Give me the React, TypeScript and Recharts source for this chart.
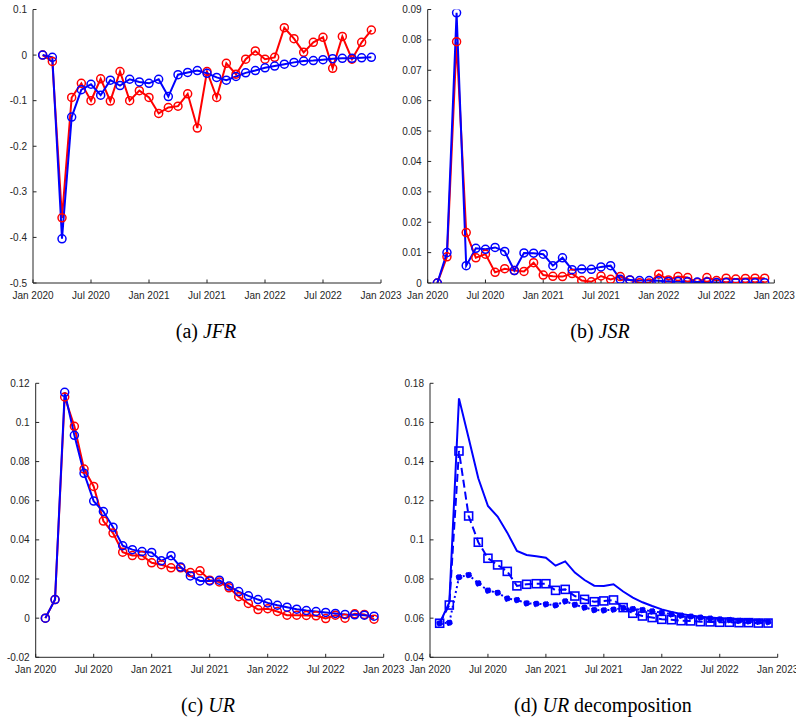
import React from "react"
import { LineChart, Line, XAxis, YAxis } from "recharts"

// monthly observations, Feb 2020 .. Dec 2022
const months = [
  "2020-02", "2020-03", "2020-04", "2020-05", "2020-06", "2020-07", "2020-08", "2020-09", "2020-10", "2020-11", "2020-12",
  "2021-01", "2021-02", "2021-03", "2021-04", "2021-05", "2021-06", "2021-07", "2021-08", "2021-09", "2021-10", "2021-11", "2021-12",
  "2022-01", "2022-02", "2022-03", "2022-04", "2022-05", "2022-06", "2022-07", "2022-08", "2022-09", "2022-10", "2022-11", "2022-12",
]

const xTicks = [0, 6, 12, 18, 24, 30, 36]
const xTickLabels = ["Jan 2020", "Jul 2020", "Jan 2021", "Jul 2021", "Jan 2022", "Jul 2022", "Jan 2023"]

// (a) JFR
const jfrRed = [
  0, -0.014, -0.357, -0.093, -0.062, -0.1, -0.052, -0.101, -0.036, -0.1, -0.078,
  -0.093, -0.128, -0.115, -0.112, -0.085, -0.16, -0.036, -0.093, -0.018, -0.042, -0.009, 0.009,
  -0.009, -0.005, 0.06, 0.036, 0.006, 0.028, 0.039, -0.029, 0.041, -0.009, 0.028, 0.055,
]
const jfrBlue = [
  0, -0.005, -0.403, -0.136, -0.076, -0.064, -0.088, -0.055, -0.067, -0.053, -0.059,
  -0.062, -0.053, -0.091, -0.043, -0.038, -0.034, -0.04, -0.049, -0.055, -0.047, -0.039, -0.034,
  -0.028, -0.024, -0.02, -0.016, -0.013, -0.012, -0.01, -0.008, -0.007, -0.007, -0.006, -0.005,
]
const jfrTicks = [-0.5, -0.4, -0.3, -0.2, -0.1, 0, 0.1]

// (b) JSR
const jsrRed = [
  0, 0.0086, 0.0794, 0.0166, 0.0083, 0.0095, 0.0035, 0.0047, 0.0041, 0.0038, 0.0067,
  0.0026, 0.0022, 0.0021, 0.0031, 0.0008, 0.0004, 0.0023, 0.0012, 0.0021, 0.001, 0.0001, 0.0,
  0.0029, 0.001, 0.0021, 0.0018, 0.0002, 0.0018, 0.0008, 0.0016, 0.0013, 0.0015, 0.0016, 0.0016,
]
const jsrBlue = [
  0, 0.01, 0.0889, 0.0057, 0.0114, 0.0111, 0.0117, 0.0104, 0.0041, 0.0099, 0.0098,
  0.0095, 0.0057, 0.0083, 0.0044, 0.0046, 0.0045, 0.0053, 0.0057, 0.0012, 0.001, 0.0008, 0.0008,
  0.0007, 0.0005, 0.0005, 0.0004, 0.0003, 0.0003, 0.0002, 0.0002, 0.0001, 0.0001, 0.0001, 0.0001,
]
const jsrTicks = [0, 0.01, 0.02, 0.03, 0.04, 0.05, 0.06, 0.07, 0.08, 0.09]

// (c) UR
const urRed = [
  0, 0.0095, 0.113, 0.098, 0.0762, 0.0673, 0.0496, 0.0435, 0.0337, 0.032, 0.032,
  0.0283, 0.0273, 0.0257, 0.0257, 0.0233, 0.0242, 0.0194, 0.0185, 0.0155, 0.011, 0.0075, 0.0044,
  0.0048, 0.0034, 0.0015, 0.0015, 0.0014, 0.0012, -0.0002, 0.0015, 0.0, 0.0022, 0.0019, -0.0005,
]
const urBlue = [
  0, 0.0095, 0.1154, 0.0934, 0.074, 0.0598, 0.0545, 0.0465, 0.037, 0.035, 0.034,
  0.0336, 0.0293, 0.0319, 0.0261, 0.0216, 0.019, 0.019, 0.0194, 0.0164, 0.0136, 0.0114, 0.0095,
  0.0078, 0.0066, 0.0056, 0.0046, 0.0039, 0.0034, 0.0029, 0.0024, 0.0019, 0.0017, 0.0015, 0.001,
]
const urTicks = [-0.02, 0, 0.02, 0.04, 0.06, 0.08, 0.1, 0.12]

// (d) UR decomposition
const decTotal = [
  0.0574, 0.068, 0.1723, 0.152, 0.1315, 0.1173, 0.1119, 0.1037, 0.0943, 0.0923, 0.0916,
  0.0909, 0.0868, 0.089, 0.0833, 0.0795, 0.0766, 0.0764, 0.0773, 0.0736, 0.0705, 0.0681, 0.0662,
  0.0645, 0.0632, 0.0621, 0.0614, 0.0607, 0.0604, 0.06, 0.0598, 0.0594, 0.0591, 0.0589, 0.0587,
]
const decSquare = [
  0.0574, 0.0667, 0.1454, 0.1122, 0.0988, 0.0906, 0.0872, 0.0839, 0.0765, 0.0773, 0.0776,
  0.0776, 0.0742, 0.0747, 0.0713, 0.0696, 0.0684, 0.0688, 0.0693, 0.0654, 0.0625, 0.0611, 0.0603,
  0.0594, 0.0592, 0.0587, 0.0586, 0.0582, 0.0581, 0.0579, 0.0579, 0.0577, 0.0577, 0.0575, 0.0575,
]
const decDot = [
  0.0574, 0.0577, 0.0809, 0.0821, 0.0778, 0.0741, 0.073, 0.07, 0.0693, 0.0676, 0.0673,
  0.0671, 0.0666, 0.0686, 0.0669, 0.0654, 0.0642, 0.064, 0.0644, 0.0652, 0.0647, 0.0642, 0.0635,
  0.0628, 0.062, 0.0613, 0.0608, 0.0603, 0.0598, 0.0594, 0.0591, 0.0587, 0.0584, 0.0582, 0.058,
]
const decTicks = [0.04, 0.06, 0.08, 0.1, 0.12, 0.14, 0.16, 0.18]

const RED = "#ff0000"
const BLUE = "#0000ff"
const AXIS = "#262626"
const tickStyle = { fontFamily: "'Liberation Sans', Arial, sans-serif", fontSize: 10, fill: "#262626" }
const serif = "'Liberation Serif', 'Times New Roman', serif"

// months since Jan 2020
const monthIdx = (m: string) => {
  const [y, mo] = m.split("-").map(Number)
  return (y - 2020) * 12 + (mo - 1)
}

const rows = (series: Record<string, number[]>) =>
  months.map((m, i) => {
    const r: Record<string, number> = { t: monthIdx(m) }
    for (const k of Object.keys(series)) r[k] = series[k][i]
    return r
  })

const fmtX = (v: number) => xTickLabels[xTicks.indexOf(v)] ?? ""
const fmtY = (v: number) => String(parseFloat(v.toFixed(4)))

const circle = (color: string) => ({ r: 4, stroke: color, strokeWidth: 1.5, fill: "none" })

const squareDot = (props: any) => {
  const { cx, cy, index } = props
  if (cx == null || cy == null) return <g key={"s" + index} />
  return (
    <rect key={"s" + index} x={cx - 4} y={cy - 4} width={8} height={8}
      fill="none" stroke={BLUE} strokeWidth={1.6} />
  )
}

type PanelProps = {
  x: number
  y: number
  plot: { l: number; t: number; r: number; b: number }
  data: Record<string, number>[]
  yDomain: [number, number]
  yTicks: number[]
  children: React.ReactNode
}

const W = 412
const H = 310
const XAX_H = 20

function Panel({ x, y, plot, data, yDomain, yTicks, children }: PanelProps) {
  return (
    <div style={{ position: "absolute", left: x, top: y }}>
      <LineChart
        width={W}
        height={H}
        data={data}
        margin={{ top: plot.t, right: W - plot.r, bottom: H - plot.b - XAX_H, left: 0 }}
      >
        <XAxis dataKey="t" type="number" domain={[0, 36]} ticks={xTicks} interval={0}
          tickFormatter={fmtX} height={XAX_H} tickSize={-3.5} tickMargin={12}
          stroke={AXIS} tick={tickStyle} allowDataOverflow />
        <XAxis xAxisId="top" orientation="top" dataKey="t" type="number" domain={[0, 36]}
          ticks={xTicks} interval={0} height={0} tickSize={-3.5} tick={false}
          stroke={AXIS} allowDataOverflow />
        <YAxis type="number" domain={yDomain} ticks={yTicks} interval={0} width={plot.l}
          tickFormatter={fmtY} tickSize={-3.5} tickMargin={9.5} stroke={AXIS}
          tick={tickStyle} allowDataOverflow />
        <YAxis yAxisId="r" orientation="right" type="number" domain={yDomain} ticks={yTicks}
          interval={0} width={0} tickSize={-3.5} tick={false} stroke={AXIS} allowDataOverflow />
        {children}
      </LineChart>
    </div>
  )
}

function Caption({ cx, cy, children }: { cx: number; cy: number; children: React.ReactNode }) {
  return (
    <div style={{
      position: "absolute", left: cx - 150, top: cy - 12, width: 300, height: 24,
      lineHeight: "24px", textAlign: "center", fontFamily: serif, fontSize: 20, color: "#000",
    }}>
      {children}
    </div>
  )
}

export default function App() {
  const dA = rows({ red: jfrRed, blue: jfrBlue })
  const dB = rows({ red: jsrRed, blue: jsrBlue })
  const dC = rows({ red: urRed, blue: urBlue })
  const dD = rows({ total: decTotal, sq: decSquare, dot: decDot })

  return (
    <div style={{ position: "absolute", left: 0, top: 0, width: 796, height: 719, background: "#fff" }}>
      <Panel x={0} y={0} plot={{ l: 33, t: 9.5, r: 381, b: 283 }} data={dA}
        yDomain={[-0.5, 0.1]} yTicks={jfrTicks}>
        {[
          <Line key="r" dataKey="red" stroke={RED} strokeWidth={2} dot={circle(RED)} isAnimationActive={false} />,
          <Line key="b" dataKey="blue" stroke={BLUE} strokeWidth={2} dot={circle(BLUE)} isAnimationActive={false} />,
        ]}
      </Panel>
      <Panel x={384} y={0} plot={{ l: 43.7, t: 9.5, r: 390.3, b: 283 }} data={dB}
        yDomain={[0, 0.09]} yTicks={jsrTicks}>
        {[
          <Line key="r" dataKey="red" stroke={RED} strokeWidth={2} dot={circle(RED)} isAnimationActive={false} />,
          <Line key="b" dataKey="blue" stroke={BLUE} strokeWidth={2} dot={circle(BLUE)} isAnimationActive={false} />,
        ]}
      </Panel>
      <Panel x={0} y={370} plot={{ l: 35.7, t: 13.3, r: 383.7, b: 287.3 }} data={dC}
        yDomain={[-0.02, 0.12]} yTicks={urTicks}>
        {[
          <Line key="r" dataKey="red" stroke={RED} strokeWidth={2} dot={circle(RED)} isAnimationActive={false} />,
          <Line key="b" dataKey="blue" stroke={BLUE} strokeWidth={2} dot={circle(BLUE)} isAnimationActive={false} />,
        ]}
      </Panel>
      <Panel x={384} y={370} plot={{ l: 46, t: 13.3, r: 393.7, b: 287.3 }} data={dD}
        yDomain={[0.04, 0.18]} yTicks={decTicks}>
        {[
          <Line key="t" dataKey="total" stroke={BLUE} strokeWidth={2} dot={false} isAnimationActive={false} />,
          <Line key="s" dataKey="sq" stroke={BLUE} strokeWidth={2} strokeDasharray="8 4"
            dot={squareDot} isAnimationActive={false} />,
          <Line key="d" dataKey="dot" stroke={BLUE} strokeWidth={2} strokeDasharray="2 3"
            dot={{ r: 3, fill: BLUE, stroke: BLUE, strokeWidth: 1 }} isAnimationActive={false} />,
        ]}
      </Panel>

      <Caption cx={206} cy={331}>(a) <i>JFR</i></Caption>
      <Caption cx={600} cy={331}>(b) <i>JSR</i></Caption>
      <Caption cx={208} cy={705}>(c) <i>UR</i></Caption>
      <Caption cx={603} cy={705}>(d) <i>UR</i> decomposition</Caption>
    </div>
  )
}
